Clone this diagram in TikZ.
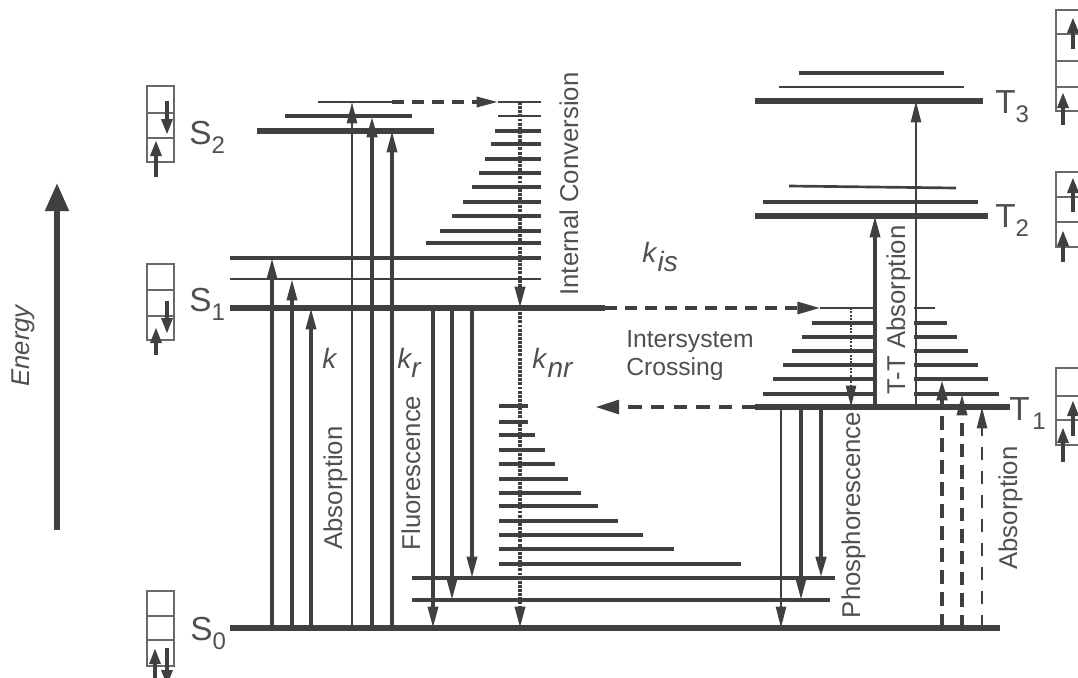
\documentclass[tikz,border=0pt]{standalone}
\usepackage{fontspec}
\setmainfont{Liberation Sans}
\usetikzlibrary{arrows.meta}
\definecolor{ln}{RGB}{64,64,64}
\definecolor{tx}{RGB}{80,80,80}
\definecolor{bx}{RGB}{105,105,105}
\newcommand\lsub[1]{\raisebox{-7pt}{\fontsize{18}{18}\selectfont #1}}
\newcommand\ksub[1]{\raisebox{-7pt}{#1}}
\begin{document}
\begin{tikzpicture}[x=0.75pt,y=-0.75pt,
 levelline/.style={draw=ln,line width=4.4pt},
 vibline/.style={draw=ln,line width=2.9pt},
 vibthin/.style={draw=ln,line width=2pt},
 arrtip/.style={-{Triangle[width=7.5pt,length=16pt]}},
 trans/.style={draw=ln,line width=2.6pt,arrtip},
 transthin/.style={draw=ln,line width=1.8pt,arrtip},
 transbold/.style={draw=ln,line width=3.2pt,arrtip},
 dashtr/.style={draw=ln,line width=2.4pt,dash pattern=on 9pt off 6pt,-{Triangle[width=9pt,length=17pt]}},
 dashbold/.style={draw=ln,line width=3.4pt,dash pattern=on 10pt off 7pt,-{Triangle[width=10pt,length=18pt]}},
 dashsmall/.style={draw=ln,line width=2.4pt,dash pattern=on 9pt off 6pt,-{Triangle[width=7.5pt,length=16pt]}},
 absdashA/.style={draw=ln,line width=3.4pt,dash pattern=on 10.5pt off 6pt,arrtip},
 absdashB/.style={draw=ln,line width=2.7pt,dash pattern=on 10pt off 6pt,arrtip},
 absdashC/.style={draw=ln,line width=1.8pt,dash pattern=on 10pt off 8pt,arrtip},
 dotline/.style={draw=ln,line width=2.7pt,dash pattern=on 2.2pt off 0.9pt,arrtip},
 dotthin/.style={draw=ln,line width=1.7pt,dash pattern=on 1.6pt off 0.9pt,arrtip},
 spinarr/.style={draw=ln,line width=3pt,-{Triangle[width=8pt,length=12pt]}},
 spinbox/.style={draw=bx,line width=1.2pt},
 rotlabel/.style={rotate=90,anchor=base,inner sep=0pt,text=tx,font=\fontsize{19.3}{22}\selectfont},
 statelabel/.style={anchor=base west,inner sep=0pt,text=tx,font=\fontsize{25}{30}\selectfont},
 klabel/.style={anchor=base west,inner sep=0pt,text=tx,font=\itshape\fontsize{21}{24}\selectfont},
]
\useasboundingbox (0,0) rectangle (1078,678);

% level coordinates
\coordinate (S0) at (0,628);
\coordinate (S0a) at (0,600);
\coordinate (S0b) at (0,578);
\coordinate (S1) at (0,308);
\coordinate (S1a) at (0,279);
\coordinate (S1b) at (0,258);
\coordinate (S2) at (0,131);
\coordinate (S2a) at (0,116);
\coordinate (S2b) at (0,102);
\coordinate (T1) at (0,407);
\coordinate (T1a) at (0,394);
\coordinate (T1b) at (0,379);
\coordinate (T1g) at (0,308);
\coordinate (T2) at (0,216);
\coordinate (T3) at (0,101);
\coordinate (E0) at (57,530);
\coordinate (E1) at (57,183);

% singlet levels
\draw[levelline] (230,628) -- (1000,628);
\draw[vibline] (412,600) -- (830,600);
\draw[vibline] (412,578) -- (835,578);
\foreach \y/\xe in {406/528,422/528,435/535,450/545,464/555,479/568,493/581,506/598,521/618,535/643,549/674,564/741}
  \draw[vibline] (499,\y) -- (\xe,\y);
\draw[levelline] (230,308) -- (605,308);
\draw[vibthin] (230,279) -- (541,279);
\draw[vibline] (230,258) -- (541,258);
\foreach \y/\xs in {243/426,231/440,216/452,202/463,187/472,173/479,159/485,144/491,131/495}
  \draw[vibline] (\xs,\y) -- (541,\y);
\draw[vibthin] (498,116) -- (541,116);
\draw[vibthin] (498,102) -- (541,102);
\draw[levelline] (257,131) -- (434,131);
\draw[vibline] (285,116) -- (412,116);
\draw[vibthin] (318,102) -- (392,102);

% triplet levels
\draw[levelline] (755,407) -- (1010,407);
\foreach \y/\xs/\xe in {394/763/999,379/773/988,365/783/978,351/792/968,337/802/957,323/812/947}
  \draw[vibline] (\xs,\y) -- (\xe,\y);
\draw[vibthin] (820,308) -- (935,308);
\fill[white] (876.5,300) rectangle (913.5,404);
\draw[levelline] (755,216) -- (988,216);
\draw[vibline] (763,202) -- (978,202);
\draw[vibthin] (789,186) -- (956,188);
\draw[levelline] (755,101) -- (983,101);
\draw[vibthin] (779,87) -- (964,87);
\draw[vibline] (799,73) -- (944,73);

% absorption S0 -> S1, S2
\draw[trans] (272,0 |- S0) -- (272,0 |- S1b);
\draw[trans] (292,0 |- S0) -- (292,0 |- S1a);
\draw[trans] (311,0 |- S0) -- (311,0 |- S1);
\draw[transthin] (352,0 |- S0) -- (352,0 |- S2b);
\draw[transbold] (372,0 |- S0) -- (372,0 |- S2a);
\draw[trans] (392,0 |- S0) -- (392,0 |- S2);

% fluorescence
\draw[trans] (433,0 |- S1) -- (433,0 |- S0);
\draw[trans] (452,0 |- S1) -- (452,0 |- S0a);
\draw[trans] (472,0 |- S1) -- (472,0 |- S0b);

% internal conversion and k_nr
\draw[dotline] (520,0 |- S2b) -- (520,0 |- S1);
\draw[dotline] (520,0 |- S1) -- (520,0 |- S0);
\draw[dashsmall] (392,0 |- S2b) -- (498,0 |- S2b);

% intersystem crossing
\draw[dashtr] (605,0 |- S1) -- (820,0 |- S1);
\draw[dashbold] (755,0 |- T1) -- (595,0 |- T1);

% triplet transitions
\draw[dotthin] (851,0 |- T1g) -- (851,0 |- T1);
\draw[trans] (875,0 |- T1) -- (875,0 |- T2);
\draw[transthin] (916,0 |- T1) -- (916,0 |- T3);

% phosphorescence
\draw[transthin] (781,0 |- T1) -- (781,0 |- S0);
\draw[trans] (801,0 |- T1) -- (801,0 |- S0a);
\draw[transbold] (821,0 |- T1) -- (821,0 |- S0b);

% absorption S0 -> T1
\draw[absdashA] (942,0 |- S0) -- (942,0 |- T1b);
\draw[absdashB] (962,0 |- S0) -- (962,0 |- T1a);
\draw[absdashC] (982,0 |- S0) -- (982,0 |- T1);

% energy axis
\draw[draw=ln,line width=4.5pt,-{Triangle[width=17pt,length=21pt]}] (E0) -- (E1);

% spin boxes left
\draw[spinbox] (147,86) rectangle (174,162);
\draw[spinbox] (147,113) -- (174,113) (147,138) -- (174,138);
\draw[spinarr] (167,101) -- (167,135);
\draw[spinarr] (156,177) -- (156,140);
\draw[spinbox] (147,264) rectangle (174,340);
\draw[spinbox] (147,290) -- (174,290) (147,316) -- (174,316);
\draw[spinarr] (167,301) -- (167,334);
\draw[spinarr] (156,355) -- (156,327);
\draw[spinbox] (147,591) rectangle (174,666);
\draw[spinbox] (147,616) -- (174,616) (147,640) -- (174,640);
\draw[spinarr] (155,686) -- (155,648);
\draw[spinarr] (167,648) -- (167,686);

% spin boxes right
\draw[spinbox] (1056,10) rectangle (1100,111);
\draw[spinbox] (1056,34) -- (1100,34) (1056,61) -- (1100,61) (1056,87) -- (1100,87);
\draw[spinarr] (1073,49) -- (1073,17);
\draw[spinarr] (1063,125) -- (1063,92);
\draw[spinbox] (1056,172) rectangle (1100,247);
\draw[spinbox] (1056,197) -- (1100,197) (1056,222) -- (1100,222);
\draw[spinarr] (1073,212) -- (1073,177);
\draw[spinarr] (1063,262) -- (1063,230);
\draw[spinbox] (1056,368) rectangle (1100,445);
\draw[spinbox] (1056,396) -- (1100,396) (1056,420) -- (1100,420);
\draw[spinarr] (1073,436) -- (1073,400);
\draw[spinarr] (1063,462) -- (1063,427);

% state labels
\node[statelabel] (lS2) at (189,144) {S\lsub{2}};
\node[statelabel] (lS1) at (189,311) {S\lsub{1}};
\node[statelabel] (lS0) at (190,640) {S\lsub{0}};
\node[statelabel] (lT1) at (1009,420) {T\kern2pt\lsub{1}};
\node[statelabel] (lT2) at (995,227) {T\lsub{2}};
\node[statelabel] (lT3) at (995,113) {T\lsub{3}};

% rate labels
\node[klabel] (k0) at (322,368) {k};
\node[klabel] (kr) at (397,368) {k\ksub{r}};
\node[klabel] (knr) at (532,368) {k\kern1pt\ksub{nr}};
\node[klabel] (kis) at (642,262) {k\kern1pt\ksub{is}};

% process labels
\node[rotlabel] (tabs) at (342,488) {Absorption};
\node[rotlabel] (tflu) at (420,473) {Fluorescence};
\node[rotlabel] (tic) at (578,184) {Internal Conversion};
\node[rotlabel] (ttt) at (905,310) {T-T Absorption};
\node[rotlabel] (tpho) at (860,515) {Phosphorescence};
\node[rotlabel] (tabs2) at (1017,508) {Absorption};
\node[rotlabel,font=\itshape\fontsize{19.3}{22}\selectfont] (ten) at (29,346) {Energy};
\node[anchor=north west,inner sep=0pt,text=tx,align=left,font=\fontsize{18.5}{21}\selectfont] (tisc) at (626,330) {Intersystem\\Crossing};
\end{tikzpicture}
\end{document}
